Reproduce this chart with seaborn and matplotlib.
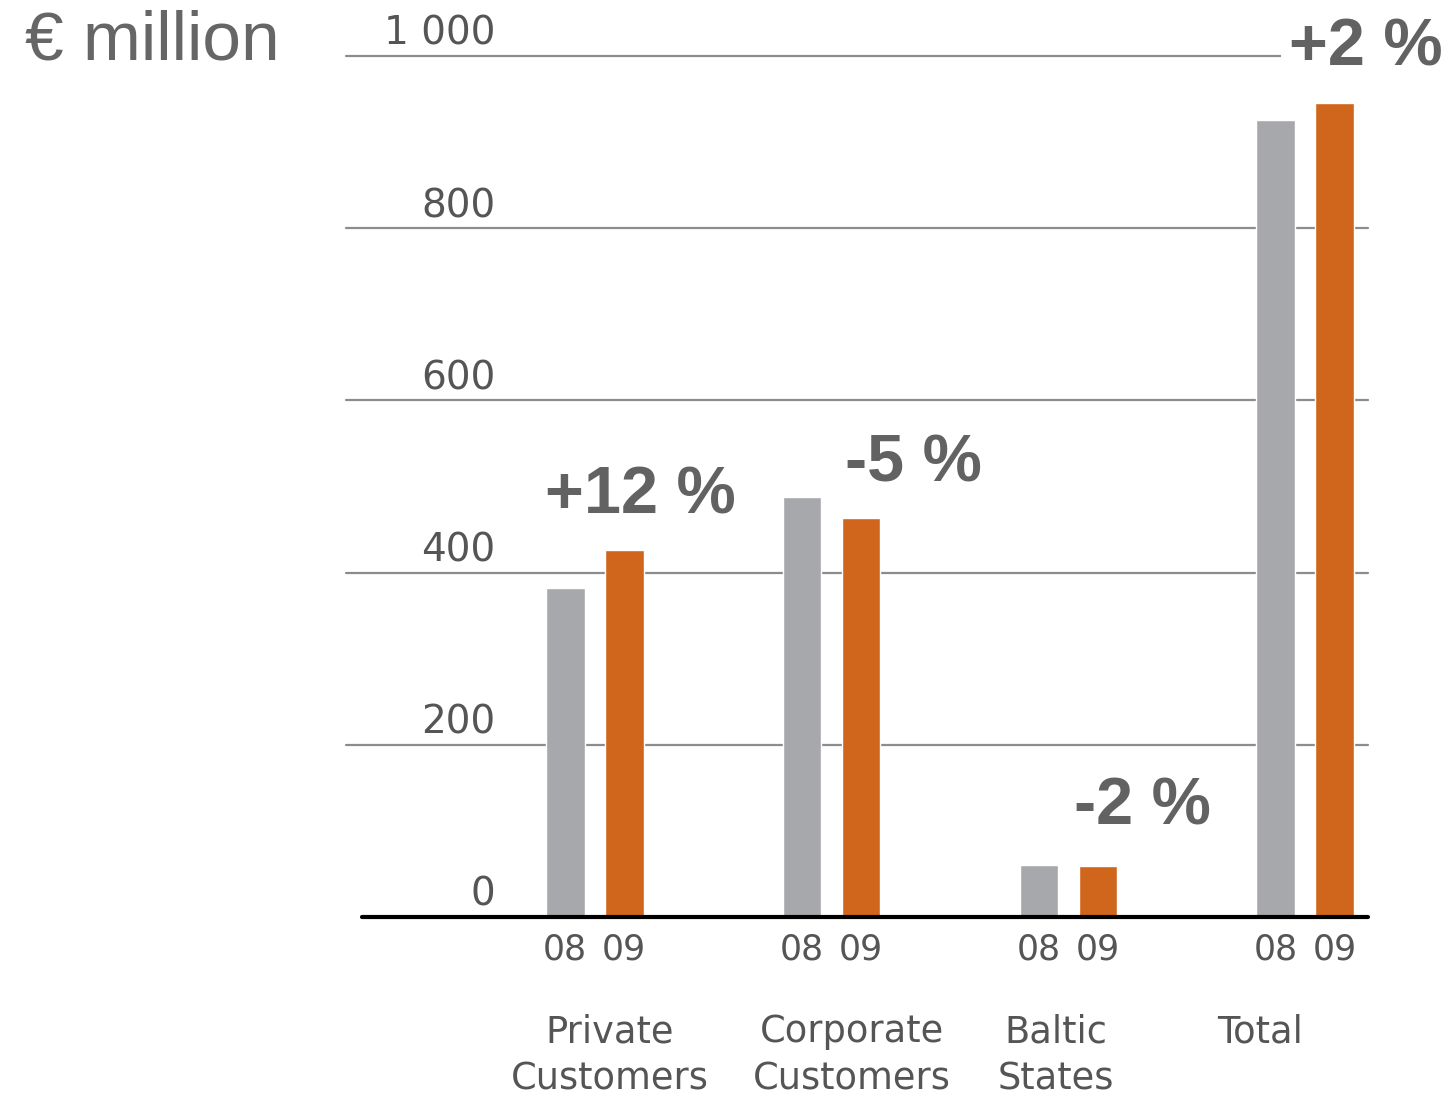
import matplotlib
matplotlib.use("Agg")
import matplotlib.pyplot as plt
import pandas as pd
import seaborn as sns

# Operating income by segment, € million
segments = ["Private\nCustomers", "Corporate\nCustomers", "Baltic\nStates", "Total"]
years = ["08", "09"]
values_08 = [382, 488, 60, 926]
values_09 = [426, 463, 59, 945]
changes = ["+12 %", "-5 %", "-2 %", "+2 %"]
y_ticks = [0, 200, 400, 600, 800, 1000]
y_tick_labels = ["0", "200", "400", "600", "800", "1 000"]

GRAY = "#a6a8ab"
ORANGE = "#d0661c"
TEXT = "#555555"
LABEL = "#626262"

df = pd.DataFrame({
    "segment": segments * 2,
    "year": [years[0]] * len(segments) + [years[1]] * len(segments),
    "value": values_08 + values_09,
})

sns.set_theme(style="white")
plt.rcParams["font.family"] = ["DejaVu Sans"]

W, H = 1454, 1098
fig = plt.figure(figsize=(W / 100, H / 100), dpi=100)
fig.patch.set_facecolor("white")
ax = fig.add_axes([346 / W, 1 - 917 / H, (1368 - 346) / W, (917 - 56) / H])
ax.set_facecolor("white")

sns.barplot(data=df, x="segment", y="value", hue="year", order=segments,
            hue_order=years, palette=[GRAY, ORANGE], saturation=1,
            width=0.498, gap=0.34, dodge=True, legend=False, ax=ax, zorder=2)

ax.set_xlim(-1.049, 3.264)
ax.set_ylim(0, 1000)
for s in ax.spines.values():
    s.set_visible(False)
ax.set_xticks([])
ax.set_yticks([])
ax.set_xlabel("")
ax.set_ylabel("")

# horizontal gridlines with labels sitting above them
for v, lab in zip(y_ticks, y_tick_labels):
    if v > 0:
        ax.axhline(v, color="#8c8c8c", lw=1.6, zorder=1, clip_on=False)
    ax.text(0.146, v + 13, lab, transform=ax.get_yaxis_transform(),
            ha="right", va="baseline", fontsize=28, color=TEXT)

# baseline
ax.axhline(0, xmin=16 / 1022, xmax=1.0, color="black", lw=3, zorder=3,
           clip_on=False)

# year labels under each bar
for p, lab in zip(ax.patches, [years[0]] * len(segments) + [years[1]] * len(segments)):
    cx = p.get_x() + p.get_width() / 2
    ax.text(cx, -38, lab, ha="center", va="center", fontsize=25,
            color=TEXT, clip_on=False)

# segment names below
seg_dx = [0.065, 0.085, -0.055, -0.19]
for i, (name, dx) in enumerate(zip(segments, seg_dx)):
    ax.text(i + dx, -112, name, ha="center", va="top", fontsize=26.5,
            color=TEXT, linespacing=1.36, clip_on=False)

# percentage change labels
chg_pos = [(0.192, 488), (0.344, 525), (0.31, 127), (0.255, 1009)]
for i, (lab, (dx, y)) in enumerate(zip(changes, chg_pos)):
    ax.text(i + dx, y, lab, ha="center", va="center", fontsize=48,
            fontweight="bold", color=LABEL, family=["Liberation Sans", "DejaVu Sans"],
            bbox=dict(facecolor="white", edgecolor="none", pad=6),
            zorder=5, clip_on=False)

fig.text(25 / W, 1 - 42 / H, "€ million", ha="left", va="center",
         fontsize=50, color="#666666", family=["Liberation Sans", "DejaVu Sans"])

fig.savefig("out.png", dpi=100, facecolor="white")
